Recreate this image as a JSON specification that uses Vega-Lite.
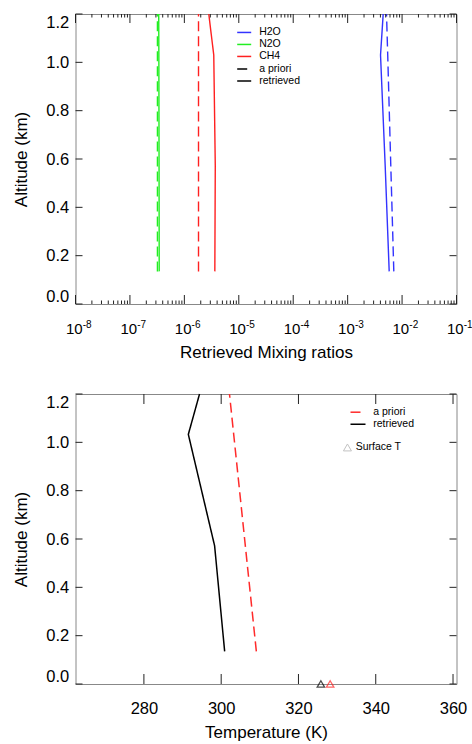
{
  "$schema": "https://vega.github.io/schema/vega-lite/v6.json",
  "padding": {"left": 11.5, "top": 13, "right": 5, "bottom": 5},
  "datasets": {
    "mix": [
      {"species": "H2O", "kind": "a priori", "alt": 0.135, "val": 0.00705},
      {"species": "H2O", "kind": "a priori", "alt": 0.57, "val": 0.00621},
      {"species": "H2O", "kind": "a priori", "alt": 1.03, "val": 0.00545},
      {"species": "H2O", "kind": "a priori", "alt": 1.2, "val": 0.00518},
      {"species": "H2O", "kind": "retrieved", "alt": 0.135, "val": 0.0058},
      {"species": "H2O", "kind": "retrieved", "alt": 0.57, "val": 0.0049},
      {"species": "H2O", "kind": "retrieved", "alt": 1.03, "val": 0.00402},
      {"species": "H2O", "kind": "retrieved", "alt": 1.2, "val": 0.0045},
      {"species": "N2O", "kind": "a priori", "alt": 0.135, "val": 3.2e-7},
      {"species": "N2O", "kind": "a priori", "alt": 0.57, "val": 3.2e-7},
      {"species": "N2O", "kind": "a priori", "alt": 1.03, "val": 3.2e-7},
      {"species": "N2O", "kind": "a priori", "alt": 1.2, "val": 3.2e-7},
      {"species": "N2O", "kind": "retrieved", "alt": 0.135, "val": 3.45e-7},
      {"species": "N2O", "kind": "retrieved", "alt": 0.57, "val": 3.43e-7},
      {"species": "N2O", "kind": "retrieved", "alt": 1.03, "val": 3.4e-7},
      {"species": "N2O", "kind": "retrieved", "alt": 1.2, "val": 3.38e-7},
      {"species": "CH4", "kind": "a priori", "alt": 0.135, "val": 1.82e-6},
      {"species": "CH4", "kind": "a priori", "alt": 0.57, "val": 1.82e-6},
      {"species": "CH4", "kind": "a priori", "alt": 1.03, "val": 1.82e-6},
      {"species": "CH4", "kind": "a priori", "alt": 1.2, "val": 1.82e-6},
      {"species": "CH4", "kind": "retrieved", "alt": 0.135, "val": 3.63e-6},
      {"species": "CH4", "kind": "retrieved", "alt": 0.57, "val": 3.7e-6},
      {"species": "CH4", "kind": "retrieved", "alt": 1.03, "val": 3.47e-6},
      {"species": "CH4", "kind": "retrieved", "alt": 1.2, "val": 2.81e-6}
    ],
    "temp": [
      {"kind": "retrieved", "alt": 0.135, "T": 300.9},
      {"kind": "retrieved", "alt": 0.572, "T": 298.3},
      {"kind": "retrieved", "alt": 1.033, "T": 291.5},
      {"kind": "retrieved", "alt": 1.2, "T": 294.4},
      {"kind": "a priori", "alt": 0.135, "T": 309.1},
      {"kind": "a priori", "alt": 1.2, "T": 302.15}
    ],
    "surf": [
      {"kind": "retrieved", "label": "Surface T", "alt": 0, "T": 325.8},
      {"kind": "a priori", "label": "Surface T", "alt": 0, "T": 328.2}
    ],
    "xmaj": [{"v": 1e-8}, {"v": 1e-7}, {"v": 1e-6}, {"v": 1e-5}, {"v": 1e-4}, {"v": 1e-3}, {"v": 1e-2}, {"v": 0.1}],
    "xmin": [{"v":2e-8},{"v":3e-8},{"v":4e-8},{"v":5e-8},{"v":6e-8},{"v":7e-8},{"v":8e-8},{"v":9e-8},{"v":2e-7},{"v":3e-7},{"v":4e-7},{"v":5e-7},{"v":6e-7},{"v":7e-7},{"v":8e-7},{"v":9e-7},{"v":2e-6},{"v":3e-6},{"v":4e-6},{"v":5e-6},{"v":6e-6},{"v":7e-6},{"v":8e-6},{"v":9e-6},{"v":2e-5},{"v":3e-5},{"v":4e-5},{"v":5e-5},{"v":6e-5},{"v":7e-5},{"v":8e-5},{"v":9e-5},{"v":2e-4},{"v":3e-4},{"v":4e-4},{"v":5e-4},{"v":6e-4},{"v":7e-4},{"v":8e-4},{"v":9e-4},{"v":2e-3},{"v":3e-3},{"v":4e-3},{"v":5e-3},{"v":6e-3},{"v":7e-3},{"v":8e-3},{"v":9e-3},{"v":2e-2},{"v":3e-2},{"v":4e-2},{"v":5e-2},{"v":6e-2},{"v":7e-2},{"v":8e-2},{"v":9e-2}],
    "yt": [{"v": 0}, {"v": 0.2}, {"v": 0.4}, {"v": 0.6}, {"v": 0.8}, {"v": 1.0}, {"v": 1.2}],
    "tt": [{"v": 280}, {"v": 300}, {"v": 320}, {"v": 340}, {"v": 360}]
  },
  "vconcat": [
    {
      "width": 381,
      "height": 290,
      "layer": [
        {
          "data": {"name": "mix"},
          "mark": {"type": "line", "strokeWidth": 1.4, "clip": true},
          "encoding": {
            "x": {
              "field": "val", "type": "quantitative",
              "scale": {"type": "log", "domain": [1e-8, 0.1], "nice": false, "padding": 0},
              "axis": {
                "orient": "bottom", "title": "Retrieved Mixing ratios",
                "values": [1e-8, 1e-7, 1e-6, 1e-5, 1e-4, 1e-3, 1e-2, 0.1],
                "labelExpr": "'10'", "labelFontSize": 15,
                "labelPadding": 17.9, "labelOffset": -1.7, "titlePadding": 7.4
              }
            },
            "y": {
              "field": "alt", "type": "quantitative",
              "scale": {"domain": [0, 1.2], "nice": false, "zero": false, "padding": 0},
              "axis": {"orient": "left", "title": "Altitude (km)", "values": [0, 0.2, 0.4, 0.6, 0.8, 1.0, 1.2], "format": ".1f", "labelPadding": 6.7, "titlePadding": 15, "labelFlush": true}
            },
            "color": {
              "field": "species", "type": "nominal",
              "scale": {"domain": ["H2O", "N2O", "CH4"], "range": ["#3333ff", "#22ee22", "#ff2020"]},
              "legend": {"orient": "none", "legendX": 162.7, "legendY": 12.45, "title": null, "symbolType": "M-1.4,0L1.4,0", "symbolSize": 100, "symbolStrokeWidth": 1.5, "rowPadding": 0, "padding": 0, "labelOffset": 9, "labelFontSize": 10.5}
            },
            "strokeDash": {
              "field": "kind", "type": "nominal",
              "scale": {"domain": ["a priori", "retrieved"], "range": [[10, 5], [1, 0]]},
              "legend": {"orient": "none", "legendX": 162.7, "legendY": 49, "title": null, "symbolType": "M-1.4,0L1.4,0", "symbolSize": 100, "symbolStrokeWidth": 1.5, "symbolStrokeColor": "black", "rowPadding": 0, "padding": 0, "labelOffset": 9, "labelFontSize": 10.5,
                "encode": {"symbols": {"update": {"strokeDash": {"signal": "datum.value == 'a priori' ? [4, 4] : [1, 0]"}}}}}
            },
            "order": {"field": "alt", "type": "quantitative"}
          }
        },
        {
          "data": {"name": "xmaj"},
          "mark": {"type": "rect", "color": "#222222", "xOffset": -0.5, "x2Offset": 0.5, "y2Offset": -9},
          "encoding": {
            "x": {
              "field": "v", "type": "quantitative",
              "axis": {
                "orient": "bottom", "title": null,
                "values": [1e-8, 1e-7, 1e-6, 1e-5, 1e-4, 1e-3, 1e-2, 0.1],
                "labelExpr": "['-0','-1','-2','-3','-4','-5','-6','-7','-8','-9'][-round(log(datum.value) / LN10)]",
                "labelFontSize": 10, "labelPadding": 15.9, "labelOffset": 11.2
              }
            },
            "x2": {"field": "v"},
            "y": {"datum": 0, "type": "quantitative", "axis": null},
            "y2": {"datum": 0}
          }
        },
        {
          "data": {"name": "xmaj"},
          "mark": {"type": "rect", "color": "#222222", "xOffset": -0.5, "x2Offset": 0.5, "y2Offset": 9},
          "encoding": {
            "x": {"field": "v", "type": "quantitative", "axis": null},
            "x2": {"field": "v"},
            "y": {"datum": 1.2, "type": "quantitative", "axis": null},
            "y2": {"datum": 1.2}
          }
        },
        {
          "data": {"name": "xmin"},
          "mark": {"type": "rect", "color": "#222222", "xOffset": -0.5, "x2Offset": 0.5, "y2Offset": -3.5},
          "encoding": {
            "x": {"field": "v", "type": "quantitative", "axis": null},
            "x2": {"field": "v"},
            "y": {"datum": 0, "type": "quantitative", "axis": null},
            "y2": {"datum": 0}
          }
        },
        {
          "data": {"name": "xmin"},
          "mark": {"type": "rect", "color": "#222222", "xOffset": -0.5, "x2Offset": 0.5, "y2Offset": 3.5},
          "encoding": {
            "x": {"field": "v", "type": "quantitative", "axis": null},
            "x2": {"field": "v"},
            "y": {"datum": 1.2, "type": "quantitative", "axis": null},
            "y2": {"datum": 1.2}
          }
        },
        {
          "data": {"name": "yt"},
          "mark": {"type": "rect", "color": "#222222", "yOffset": -0.5, "y2Offset": 0.5, "x2Offset": 7},
          "encoding": {
            "y": {"field": "v", "type": "quantitative", "axis": null},
            "y2": {"field": "v"},
            "x": {"datum": 1e-8, "type": "quantitative", "axis": null},
            "x2": {"datum": 1e-8}
          }
        },
        {
          "data": {"name": "yt"},
          "mark": {"type": "rect", "color": "#222222", "yOffset": -0.5, "y2Offset": 0.5, "x2Offset": -7},
          "encoding": {
            "y": {"field": "v", "type": "quantitative", "axis": null},
            "y2": {"field": "v"},
            "x": {"datum": 0.1, "type": "quantitative", "axis": null},
            "x2": {"datum": 0.1}
          }
        }
      ],
      "resolve": {"axis": {"x": "independent", "y": "independent"}}
    },
    {
      "width": 381,
      "height": 290,
      "layer": [
        {
          "data": {"name": "temp"},
          "mark": {"type": "line", "strokeWidth": 1.5},
          "encoding": {
            "x": {
              "field": "T", "type": "quantitative",
              "scale": {"domain": [262.3, 360.9], "nice": false, "zero": false, "padding": 0},
              "axis": {"orient": "bottom", "title": "Temperature (K)", "values": [280, 300, 320, 340, 360], "format": "d", "labelPadding": 16.8, "titlePadding": 7.6}
            },
            "y": {
              "field": "alt", "type": "quantitative",
              "scale": {"domain": [0, 1.2], "nice": false, "zero": false, "padding": 0},
              "axis": {"orient": "left", "title": "Altitude (km)", "values": [0, 0.2, 0.4, 0.6, 0.8, 1.0, 1.2], "format": ".1f", "labelPadding": 6.7, "titlePadding": 15, "labelFlush": true}
            },
            "color": {
              "field": "kind", "type": "nominal",
              "scale": {"domain": ["a priori", "retrieved"], "range": ["#ff2a2a", "#000000"]},
              "legend": {"orient": "none", "legendX": 276.5, "legendY": 12.2, "title": null, "symbolType": "M-1.5,0L1.5,0", "symbolSize": 100, "symbolStrokeWidth": 1.5, "rowPadding": 0, "padding": 0, "labelOffset": 9.2, "labelFontSize": 10.5,
                "encode": {"symbols": {"update": {"strokeDash": {"signal": "datum.value == 'a priori' ? [5, 4] : [1, 0]"}}}}}
            },
            "strokeDash": {
              "field": "kind", "type": "nominal",
              "scale": {"domain": ["a priori", "retrieved"], "range": [[10, 5], [1, 0]]},
              "legend": {"orient": "none", "legendX": 276.5, "legendY": 12.2, "title": null, "symbolType": "M-1.5,0L1.5,0", "symbolSize": 100, "symbolStrokeWidth": 1.5, "rowPadding": 0, "padding": 0, "labelOffset": 9.2, "labelFontSize": 10.5,
                "encode": {"symbols": {"update": {"strokeDash": {"signal": "datum.value == 'a priori' ? [5, 4] : [1, 0]"}}}}}
            },
            "order": {"field": "alt", "type": "quantitative"}
          }
        },
        {
          "data": {"name": "surf"},
          "mark": {"type": "point", "filled": false, "size": 55, "strokeWidth": 1.3},
          "encoding": {
            "x": {"field": "T", "type": "quantitative", "axis": null},
            "y": {"field": "alt", "type": "quantitative", "axis": null},
            "stroke": {"field": "kind", "type": "nominal", "scale": {"domain": ["a priori", "retrieved"], "range": ["#ff2020", "#000000"]}, "legend": null},
            "shape": {
              "field": "label", "type": "nominal", "scale": {"range": ["triangle-up"]},
              "legend": {"orient": "none", "legendX": 266.7, "legendY": 48.2, "title": null, "symbolSize": 64, "symbolStrokeColor": "#aaaaaa", "symbolFillColor": "transparent", "symbolStrokeWidth": 1, "padding": 0, "labelOffset": 3, "labelFontSize": 10.5}
            }
          }
        },
        {
          "data": {"name": "tt"},
          "mark": {"type": "rect", "color": "#222222", "xOffset": -0.5, "x2Offset": 0.5, "y2Offset": -10},
          "encoding": {
            "x": {"field": "v", "type": "quantitative", "axis": null},
            "x2": {"field": "v"},
            "y": {"datum": 0, "type": "quantitative", "axis": null},
            "y2": {"datum": 0}
          }
        },
        {
          "data": {"name": "tt"},
          "mark": {"type": "rect", "color": "#222222", "xOffset": -0.5, "x2Offset": 0.5, "y2Offset": 10},
          "encoding": {
            "x": {"field": "v", "type": "quantitative", "axis": null},
            "x2": {"field": "v"},
            "y": {"datum": 1.2, "type": "quantitative", "axis": null},
            "y2": {"datum": 1.2}
          }
        },
        {
          "data": {"name": "yt"},
          "mark": {"type": "rect", "color": "#222222", "yOffset": -0.5, "y2Offset": 0.5, "x2Offset": 7},
          "encoding": {
            "y": {"field": "v", "type": "quantitative", "axis": null},
            "y2": {"field": "v"},
            "x": {"datum": 262.3, "type": "quantitative", "axis": null},
            "x2": {"datum": 262.3}
          }
        },
        {
          "data": {"name": "yt"},
          "mark": {"type": "rect", "color": "#222222", "yOffset": -0.5, "y2Offset": 0.5, "x2Offset": -7},
          "encoding": {
            "y": {"field": "v", "type": "quantitative", "axis": null},
            "y2": {"field": "v"},
            "x": {"datum": 360.9, "type": "quantitative", "axis": null},
            "x2": {"datum": 360.9}
          }
        }
      ],
      "resolve": {"axis": {"x": "independent", "y": "independent"}}
    }
  ],
  "resolve": {"scale": {"color": "independent", "strokeDash": "independent", "shape": "independent", "stroke": "independent", "x": "independent", "y": "independent"}},
  "spacing": 90,
  "bounds": "flush",
  "config": {
    "font": "Liberation Sans",
    "view": {"stroke": "#888888", "strokeWidth": 1},
    "axis": {"domain": false, "grid": false, "ticks": false, "labelColor": "#000000", "labelFontSize": 16.5, "titleFontSize": 17, "titleFontWeight": "normal", "titleColor": "#000000", "labelFont": "Liberation Sans", "titleFont": "Liberation Sans", "labelOverlap": false, "labelFlush": false},
    "legend": {"labelFont": "Liberation Sans", "labelColor": "#000000", "labelFontSize": 10.5}
  }
}
